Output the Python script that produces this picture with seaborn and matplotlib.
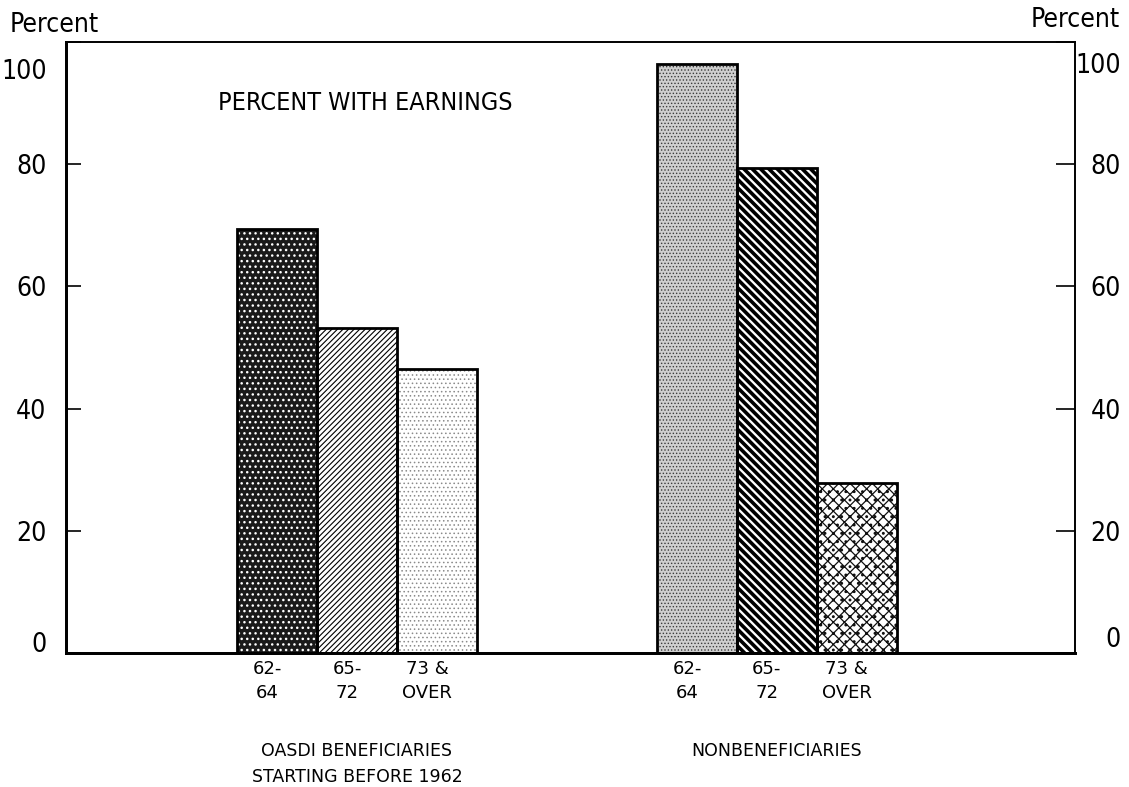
import pandas as pd
import numpy as np
import matplotlib
matplotlib.use('Agg')
import matplotlib.pyplot as plt
from matplotlib.patches import Rectangle
from matplotlib.transforms import ScaledTranslation, blended_transform_factory
import seaborn as sns

# data
groups = ['OASDI BENEFICIARIES\nSTARTING BEFORE 1962', 'NONBENEFICIARIES']
ages = ['62-\n64', '65-\n72', '73 &\nOVER']
oasdi = [69.4, 53.2, 46.5]
nonben = [96.4, 79.4, 27.8]
yticks = [0, 20, 40, 60, 80, 100]

df = pd.DataFrame({
    'group': [groups[0]] * 3 + [groups[1]] * 3,
    'age': ages * 2,
    'value': oasdi + nonben,
})

# bar fill styles: (group, age) -> face, hatch colour, hatch, hatch width
styles = {
    (0, 0): ('#1a1a1a', 'white', '...', 1.0),
    (0, 1): ('white', 'black', '//////', 0.8),
    (0, 2): ('white', '#8a8a8a', '....', 0.6),
    (1, 0): ('#cfcfcf', '#3a3a3a', '.....', 0.6),
    (1, 1): ('white', 'black', '\\\\\\\\', 2.6),
    (1, 2): ('white', '#111111', 'xxx..', 0.9),
}

sns.set_style('white')
plt.rcParams['font.family'] = ['DejaVu Sans']
plt.rcParams['font.stretch'] = 'condensed'
plt.rcParams['text.color'] = 'black'
plt.rcParams['xtick.color'] = 'black'
plt.rcParams['ytick.color'] = 'black'

fig = plt.figure(figsize=(11.29, 7.87), dpi=100)
fig.subplots_adjust(left=66 / 1129, right=1075 / 1129, top=1 - 42 / 787, bottom=1 - 653 / 787)
ax = fig.add_subplot(111)

sns.barplot(data=df, x='group', y='value', hue='age', order=groups, hue_order=ages,
            width=0.571, dodge=True, gap=0, ax=ax, legend=False, errorbar=None)

ax.set_xlim(-0.693, 1.71)
ax.set_ylim(0, 100)

centers = []
labels = []
for h, cont in enumerate(ax.containers):
    for g, bar in enumerate(cont):
        fc, hc, hatch, hlw = styles[(g, h)]
        bar.set_facecolor(fc)
        bar.set_edgecolor(hc)
        bar.set_hatch(hatch)
        bar.set_linewidth(0)
        if hasattr(bar, 'set_hatch_linewidth'):
            bar.set_hatch_linewidth(hlw)
        ax.add_patch(Rectangle(bar.get_xy(), bar.get_width(), bar.get_height(),
                               fill=False, edgecolor='black', linewidth=2, zorder=3))
        centers.append(bar.get_x() + bar.get_width() / 2)
        labels.append(ages[h])

# age labels under each bar
ax.set_xticks(centers, labels=labels)
ax.tick_params(axis='x', length=0, pad=5, labelsize=13)
for lab in ax.get_xticklabels():
    lab.set_fontstretch('normal')
    lab.set_linespacing(1.4)
    lab.set_transform(lab.get_transform() + ScaledTranslation(-0.1, 0, fig.dpi_scale_trans))
ax.set_xlabel('')
ax.set_ylabel('')

# group labels
tr = blended_transform_factory(ax.transData, ax.transAxes)
for i, g in enumerate(groups):
    ax.text(i, -0.145, g, transform=tr, ha='center', va='top', fontsize=12.5,
            fontstretch='normal', linespacing=1.6)

# left axis
ax.set_yticks(yticks, labels=[str(t) for t in yticks])
ax.tick_params(axis='y', direction='in', length=11, width=1.2, pad=14, labelsize=19, left=True)
ylabs = ax.get_yticklabels()
ylabs[0].set_transform(ylabs[0].get_transform() + ScaledTranslation(0, 0.11, fig.dpi_scale_trans))
ylabs[-1].set_transform(ylabs[-1].get_transform() + ScaledTranslation(0, -0.27, fig.dpi_scale_trans))

# right axis
ax2 = ax.twinx()
ax2.set_ylim(0, 100)
ax2.set_yticks(yticks, labels=[str(t) for t in yticks])
ax2.tick_params(axis='y', direction='in', length=14, width=1.2, pad=33, labelsize=19)
for lab in ax2.get_yticklabels():
    lab.set_horizontalalignment('right')
rlabs = ax2.get_yticklabels()
rlabs[0].set_transform(rlabs[0].get_transform() + ScaledTranslation(0, 0.16, fig.dpi_scale_trans))
rlabs[-1].set_transform(rlabs[-1].get_transform() + ScaledTranslation(0, -0.21, fig.dpi_scale_trans))

for a in (ax, ax2):
    for s in a.spines.values():
        s.set_visible(True)
        s.set_color('black')
    a.spines['left'].set_linewidth(2)
    a.spines['bottom'].set_linewidth(2)
    a.spines['top'].set_linewidth(1.2)
    a.spines['right'].set_linewidth(1.2)

ax.text(0.151, 0.90, 'PERCENT WITH EARNINGS', transform=ax.transAxes, fontsize=18,
        va='center', ha='left')
fig.text(10 / 1129, 1 - 25 / 787, 'Percent', fontsize=19, va='center', ha='left')
fig.text(1120 / 1129, 1 - 20 / 787, 'Percent', fontsize=19, va='center', ha='right')

fig.savefig('out.png', dpi=100)
